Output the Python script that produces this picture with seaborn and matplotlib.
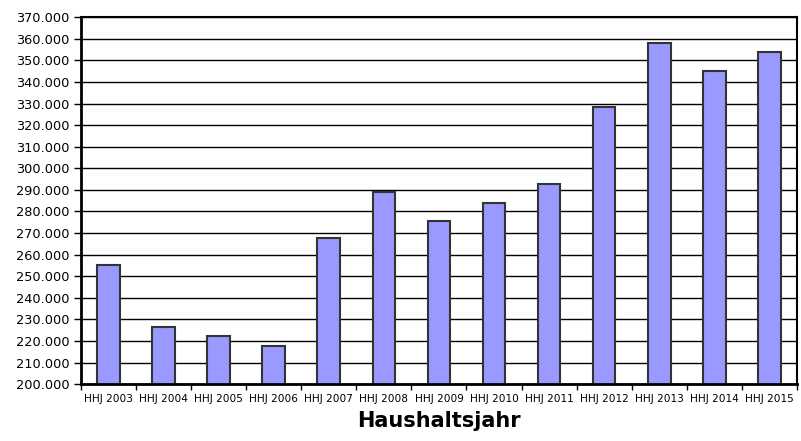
import matplotlib
matplotlib.use("Agg")
import matplotlib.pyplot as plt
import matplotlib.ticker as mticker
import seaborn as sns
import pandas as pd
import numpy as np

# data
years = ["HHJ 2003", "HHJ 2004", "HHJ 2005", "HHJ 2006", "HHJ 2007", "HHJ 2008", "HHJ 2009",
         "HHJ 2010", "HHJ 2011", "HHJ 2012", "HHJ 2013", "HHJ 2014", "HHJ 2015"]
values = [255100, 226400, 222500, 217500, 267500, 289000, 275600,
          284000, 292500, 328300, 357900, 345100, 353900]

df = pd.DataFrame({"Jahr": years, "Wert": values})

sns.set_style("white")
plt.rcParams["font.family"] = ["DejaVu Sans"]
plt.rcParams["text.color"] = "black"
plt.rcParams["axes.labelcolor"] = "black"
plt.rcParams["xtick.color"] = "black"
plt.rcParams["ytick.color"] = "black"

fig = plt.figure(figsize=(8.01, 4.41), dpi=100)
ax = fig.add_axes([0.101, 0.129, 0.894, 0.832])

sns.barplot(data=df, x="Jahr", y="Wert", color="#9999ff", saturation=1,
            width=0.41, edgecolor="#333333", linewidth=1.5, ax=ax)

ax.set_ylim(200000, 370000)
ax.set_xlim(-0.5, len(years) - 0.5)
ax.yaxis.set_major_locator(mticker.MultipleLocator(10000))
ax.yaxis.set_major_formatter(mticker.FuncFormatter(lambda v, p: f"{v:,.0f}".replace(",", ".")))
ax.grid(axis="y", color="black", linewidth=1)
ax.set_axisbelow(True)

for side in ["left", "right", "top", "bottom"]:
    ax.spines[side].set_visible(True)
    ax.spines[side].set_color("black")
ax.spines["left"].set_linewidth(2)
ax.spines["bottom"].set_linewidth(2)
ax.spines["top"].set_linewidth(1.5)
ax.spines["right"].set_linewidth(1.5)

# ticks between categories
ax.set_xticks(np.arange(len(years) + 1) - 0.5, minor=True)
ax.tick_params(axis="x", which="major", length=0, labelsize=7.6, pad=7)
ax.tick_params(axis="x", which="minor", length=4, width=1, direction="out", bottom=True)
ax.tick_params(axis="y", length=5, width=1, direction="out", left=True, labelsize=9.3, pad=3)

ax.set_ylabel("")
ax.set_xlabel("Haushaltsjahr", fontsize=15, fontweight="bold", labelpad=5)

fig.savefig("out.png", dpi=100)
